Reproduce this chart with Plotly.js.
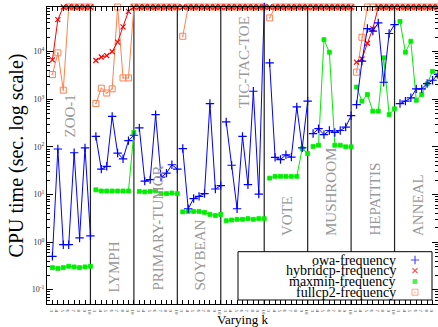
<!DOCTYPE html>
<html>
<head>
<meta charset="utf-8">
<script src="https://cdn.plot.ly/plotly-3.0.1.min.js"></script>
<style>html,body{margin:0;padding:0;background:#fff;}#chart{width:438px;height:327px;}</style>
</head>
<body>
<div id="chart"></div>
<script>
// ---- data ----
const datasets = ['ZOO-1','LYMPH','PRIMARY-TUMOR','SOYBEAN','TIC-TAC-TOE','VOTE','MUSHROOM','HEPATITIS','ANNEAL'];
const kValues = [3,4,5,6,7,8,9,10];
// 86400 s = timeout (top of the axis)
const owa = [
  0.50, 90, 0.88, 0.88, 75, 1.22, 95, 1.35,
  166, 34, 39, 437, 74, 56, 135, 175,
  250, 19, 20.5, 475, 23, 28, 42, 34,
  92, 5.0, 8.2, 9.1, 10.4, 810, 13, 15.3,
  333, 41, 5.0, 166, 16, 1470, 10.2, 86400,
  5800, 60, 54, 68, 61, 690, 95, 910,
  190, 240, 180, 220, 200, 220, 260, 450,
  770, 6300, 30500, 27000, 40000, 2270, 24000, 37000,
  810, 910, 1070, 1650, 1650, 2130, 2500, 3300
];
const hybridcp = [
  6700, 47000, 86400, 86400, 86400, 86400, 86400, 86400,
  6500, 7700, 8200, 10000, 15800, 33000, 70000, 86400,
  86400, 86400, 86400, 86400, 86400, 86400, 86400, 86400,
  86400, 86400, 86400, 86400, 86400, 86400, 86400, 86400,
  86400, 86400, 86400, 86400, 86400, 86400, 86400, 86400,
  86400, 86400, 86400, 86400, 86400, 86400, 86400, 86400,
  86400, 86400, 86400, 86400, 86400, 86400, 86400, 86400,
  6000, 7000, 15000, 30000, 86400, 86400, 86400, 86400,
  86400, 86400, 86400, 86400, 86400, 86400, 86400, 86400
];
const maxmin = [
  0.29, 0.28, 0.29, 0.31, 0.30, 0.29, 0.30, 0.31,
  12.5, 11.8, 11.8, 11.8, 11.8, 11.8, 11.8, 200,
  11.6, 11.3, 11.6, 12, 10.4, 10.4, 10.7, 10.4,
  4.3, 4.4, 4.4, 4.4, 4.2, 3.8, 3.6, 3.8,
  2.8, 2.9, 3.0, 3.0, 3.1, 3.0, 3.1, 3.1,
  22, 24, 24, 24, 24, 24, 92, 72,
  102, 108, 17800, 9700, 108, 108, 100, 100,
  1800, 910, 1250, 560, 560, 7400, 475, 630,
  43000, 9700, 16500, 950, 1250, 2100, 3850, 3150
];
const fullcp2 = [
  3300, 9400, 1550, 86400, 86400, 86400, 86400, 86400,
  810, 1700, 1350, 1650, 86400, 2800, 2800, 86400,
  86400, 86400, 86400, 86400, 86400, 86400, 86400, 86400,
  21000, 86400, 86400, 86400, 86400, 86400, 86400, 86400,
  86400, 86400, 86400, 86400, 86400, 86400, 86400, 86400,
  51000, 86400, 86400, 86400, 86400, 86400, 86400, 86400,
  86400, 86400, 86400, 86400, 86400, 86400, 86400, 86400,
  3700, 20000, 86400, 86400, 86400, 86400, 86400, 86400,
  86400, 86400, 86400, 86400, 86400, 86400, 86400, 86400
];
const seriesNames = ['owa-frequency','hybridcp-frequency','maxmin-frequency','fullcp2-frequency'];

// ---- build ----
const nK = kValues.length;
function build(arr){
  const x=[], y=[];
  datasets.forEach((d,i)=>{
    kValues.forEach((k,j)=>{ x.push(i*nK + (k-2)); y.push(arr[i*nK+j]); });
    x.push(i*nK + nK + 0.5); y.push(null);
  });
  return {x,y};
}
const styles = [
  {color:'#0000ff', symbol:'cross-thin-open', size:6, lw:1.2},
  {color:'#ff0000', symbol:'x-thin-open', size:5, lw:1.2},
  {color:'#00ee00', symbol:'square', size:4, lw:0.8},
  {color:'#ff8050', symbol:'square-open-dot', size:6, lw:1}
];
const allData = [owa, hybridcp, maxmin, fullcp2];
const drawOrder = [3,1,2,0];
const traces = drawOrder.map(si=>{
  const b = build(allData[si]); const s = styles[si];
  return {x:b.x, y:b.y, type:'scatter', mode:'lines+markers', name:seriesNames[si],
    cliponaxis:false, showlegend:false,
    line:{color:s.color, width:1},
    marker:{symbol:s.symbol, size:s.size, color:s.color, line:{color:s.color, width:s.lw}}};
});

// legend (manual, text then symbol as in the reference)
const L = {l:47, r:0, t:7, b:23};
const W = 438, H = 327;
const pw = W-L.l-L.r, ph = H-L.t-L.b;
const px2x = px => (px-L.l)/pw;
const py2y = py => (H-L.b-py)/ph;
const legRows = [260, 270.7, 281.5, 292.2];
traces.push({
  x: seriesNames.map(()=>px2x(415)), y: legRows.map(py2y),
  xaxis:'x2', yaxis:'y2', type:'scatter', mode:'markers', showlegend:false, cliponaxis:false,
  marker:{symbol:styles.map(s=>s.symbol), size:styles.map(s=>s.size),
    color:styles.map(s=>s.color), line:{color:styles.map(s=>s.color), width:styles.map(s=>s.lw)}}
});

const shapes = [];
for(let i=1;i<datasets.length;i++){
  shapes.push({type:'line', xref:'x', yref:'paper', x0:i*nK, x1:i*nK, y0:0, y1:1,
    line:{color:'#222', width:1.2}, layer:'below'});
}
shapes.push({type:'rect', xref:'paper', yref:'paper', x0:px2x(238), x1:px2x(432), y0:py2y(300), y1:py2y(251.7),
  fillcolor:'#fff', line:{color:'#000', width:1}, layer:'below'});

const serif = 'Liberation Serif, DejaVu Serif, serif';
const labelPos = [[69,140],[113,295],[157,293],[199,293],[244,110],[287,238],[331,238],[374,238],[418,238]];
const annotations = datasets.map((d,i)=>({
  text:d, xref:'x', yref:'paper', x:(labelPos[i][0]-L.l)/pw*72, y:py2y(labelPos[i][1]),
  xanchor:'center', yanchor:'bottom', textangle:-90, showarrow:false,
  font:{family:serif, size:15, color:'#999'}
}));
seriesNames.forEach((n,i)=>annotations.push({
  text:n, xref:'paper', yref:'paper', x:px2x(398), y:py2y(legRows[i]), xanchor:'right', yanchor:'middle',
  showarrow:false, font:{family:serif, size:14, color:'#000'}
}));

// ticks
const xt=[], xtt=[];
for(let p=0;p<=datasets.length*nK;p++){ xt.push(p); xtt.push(p===0?'':String(((p-1)%nK)+3)); }
const yt=[0.1,1,10,100,1000,10000];
const ytt=['10<sup>-1</sup>','10<sup>0</sup>','10<sup>1</sup>','10<sup>2</sup>','10<sup>3</sup>','10<sup>4</sup>'];
const ym=[];
[0.01,0.1,1,10,100,1000,10000].forEach(d=>{for(let m=2;m<=9;m++){ym.push(m*d);}});

const layout = {
  width:W, height:H, margin:L, paper_bgcolor:'#fff', plot_bgcolor:'#fff',
  font:{family:serif, color:'#000'},
  xaxis:{range:[0,72], tickvals:xt, ticktext:xtt, ticks:'inside', ticklen:4, tickcolor:'#000',
    showline:true, linecolor:'#000', linewidth:1, mirror:'allticks', showgrid:false, zeroline:false,
    tickfont:{size:5, family:serif, color:'#333'}, ticklabelstandoff:1,
    title:{text:'Varying k', font:{size:13, family:serif}, standoff:4}},
  yaxis:{type:'log', range:[Math.log10(0.05), Math.log10(86400)], tickvals:yt, ticktext:ytt,
    ticks:'inside', ticklen:6, tickcolor:'#000', showline:true, linecolor:'#000', linewidth:1,
    mirror:'allticks', showgrid:false, zeroline:false,
    minor:{tickvals:ym, ticks:'inside', ticklen:3, tickcolor:'#000', showgrid:false},
    tickfont:{size:8, family:serif, color:'#333'},
    title:{text:'CPU time (sec. log scale)', font:{size:20, family:serif}, standoff:2}},
  xaxis2:{overlaying:'x', range:[0,1], visible:false},
  yaxis2:{overlaying:'y', range:[0,1], visible:false},
  shapes, annotations, showlegend:false
};
Plotly.newPlot('chart', traces, layout, {displayModeBar:false, staticPlot:true});
</script>
</body>
</html>
